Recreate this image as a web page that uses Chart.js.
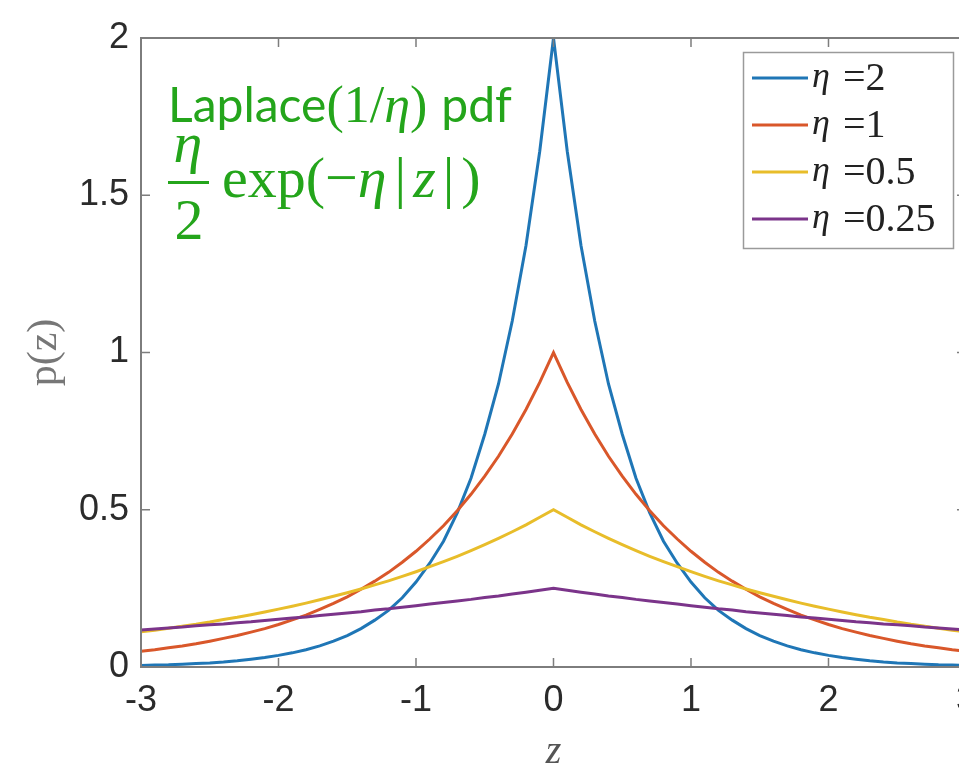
<!DOCTYPE html>
<html>
<head>
<meta charset="utf-8">
<script src="https://cdn.jsdelivr.net/npm/chart.js@4.4.0/dist/chart.umd.min.js"></script>
<style>
  html, body { margin: 0; padding: 0; background: #fff; overflow: hidden; }
  #wrap { position: absolute; left: 0; top: 0; width: 988px; height: 774px; }
</style>
</head>
<body>
<div id="wrap"><canvas id="laplaceChart" width="988" height="774"></canvas></div>
<script>
// z grid, -3 .. 3 in steps of 0.1
const zVals = [
  -3.0, -2.9, -2.8, -2.7, -2.6, -2.5, -2.4, -2.3, -2.2, -2.1,
  -2.0, -1.9, -1.8, -1.7, -1.6, -1.5, -1.4, -1.3, -1.2, -1.1,
  -1.0, -0.9, -0.8, -0.7, -0.6, -0.5, -0.4, -0.3, -0.2, -0.1,
  0.0,
  0.1, 0.2, 0.3, 0.4, 0.5, 0.6, 0.7, 0.8, 0.9, 1.0,
  1.1, 1.2, 1.3, 1.4, 1.5, 1.6, 1.7, 1.8, 1.9, 2.0,
  2.1, 2.2, 2.3, 2.4, 2.5, 2.6, 2.7, 2.8, 2.9, 3.0
];

// p(z)
const pEta2 = [
  0.005, 0.006, 0.007, 0.009, 0.011, 0.013, 0.016, 0.020, 0.025, 0.030,
  0.037, 0.045, 0.055, 0.067, 0.082, 0.100, 0.122, 0.149, 0.18, 0.22,
  0.27, 0.33, 0.40, 0.49, 0.60, 0.74, 0.90, 1.10, 1.34, 1.64,
  2,
  1.64, 1.34, 1.10, 0.90, 0.74, 0.60, 0.49, 0.40, 0.33, 0.27,
  0.22, 0.18, 0.149, 0.122, 0.100, 0.082, 0.067, 0.055, 0.045, 0.037,
  0.030, 0.025, 0.020, 0.016, 0.013, 0.011, 0.009, 0.007, 0.006, 0.005
];
const pEta1 = [
  0.050, 0.055, 0.061, 0.067, 0.074, 0.082, 0.091, 0.100, 0.111, 0.122,
  0.135, 0.150, 0.165, 0.183, 0.202, 0.223, 0.247, 0.273, 0.301, 0.333,
  0.368, 0.407, 0.449, 0.497, 0.549, 0.607, 0.670, 0.741, 0.819, 0.905,
  1,
  0.905, 0.819, 0.741, 0.670, 0.607, 0.549, 0.497, 0.449, 0.407, 0.368,
  0.333, 0.301, 0.273, 0.247, 0.223, 0.202, 0.183, 0.165, 0.150, 0.135,
  0.122, 0.111, 0.100, 0.091, 0.082, 0.074, 0.067, 0.061, 0.055, 0.050
];
const pEtaHalf = [
  0.112, 0.117, 0.123, 0.130, 0.136, 0.143, 0.151, 0.158, 0.166, 0.175,
  0.184, 0.193, 0.203, 0.214, 0.225, 0.236, 0.248, 0.261, 0.274, 0.288,
  0.303, 0.319, 0.335, 0.352, 0.370, 0.389, 0.409, 0.430, 0.452, 0.476,
  0.5,
  0.476, 0.452, 0.430, 0.409, 0.389, 0.370, 0.352, 0.335, 0.319, 0.303,
  0.288, 0.274, 0.261, 0.248, 0.236, 0.225, 0.214, 0.203, 0.193, 0.184,
  0.175, 0.166, 0.158, 0.151, 0.143, 0.136, 0.130, 0.123, 0.117, 0.112
];
const pEtaQuarter = [
  0.118, 0.121, 0.124, 0.127, 0.131, 0.134, 0.137, 0.141, 0.144, 0.148,
  0.152, 0.156, 0.159, 0.164, 0.168, 0.172, 0.176, 0.181, 0.185, 0.190,
  0.195, 0.200, 0.205, 0.210, 0.215, 0.221, 0.226, 0.232, 0.238, 0.244,
  0.25,
  0.244, 0.238, 0.232, 0.226, 0.221, 0.215, 0.210, 0.205, 0.200, 0.195,
  0.190, 0.185, 0.181, 0.176, 0.172, 0.168, 0.164, 0.159, 0.156, 0.152,
  0.148, 0.144, 0.141, 0.137, 0.134, 0.131, 0.127, 0.124, 0.121, 0.118
];

const etaLabels = ['2', '1', '0.5', '0.25'];
const xTicks = [-3, -2, -1, 0, 1, 2, 3];
const yTicks = [0, 0.5, 1, 1.5, 2];

const series = [pEta2, pEta1, pEtaHalf, pEtaQuarter];
const lineColors = ['#1f76b6', '#d9572a', '#e8bd2a', '#7b348a'];
const green = '#24a51b';
const serif = '"Liberation Serif", "DejaVu Serif", serif';

// MATLAB-style box with inward ticks
const axesBox = {
  id: 'axesBox',
  afterDatasetsDraw(chart) {
    const { ctx, chartArea: a, scales } = chart;
    ctx.save();
    ctx.strokeStyle = '#7d7d7d';
    ctx.lineWidth = 2;
    ctx.strokeRect(a.left, a.top, a.right - a.left, a.bottom - a.top);
    ctx.lineWidth = 1.5;
    ctx.beginPath();
    xTicks.forEach(v => {
      const px = scales.x.getPixelForValue(v);
      ctx.moveTo(px, a.bottom); ctx.lineTo(px, a.bottom - 9);
      ctx.moveTo(px, a.top); ctx.lineTo(px, a.top + 9);
    });
    yTicks.forEach(v => {
      const py = scales.y.getPixelForValue(v);
      ctx.moveTo(a.left, py); ctx.lineTo(a.left + 9, py);
      ctx.moveTo(a.right, py); ctx.lineTo(a.right - 9, py);
    });
    ctx.stroke();
    ctx.restore();
  }
};

// boxed legend in the upper right
const legendBox = {
  id: 'legendBox',
  afterDraw(chart) {
    const ctx = chart.ctx;
    ctx.save();
    ctx.fillStyle = '#fff';
    ctx.fillRect(743, 52, 210, 196);
    ctx.strokeStyle = '#9a9a9a';
    ctx.lineWidth = 1.5;
    ctx.strokeRect(743.5, 52.5, 210, 196);
    chart.data.datasets.forEach((ds, i) => {
      const y = 78 + i * 47;
      ctx.strokeStyle = ds.borderColor;
      ctx.lineWidth = 3;
      ctx.beginPath();
      ctx.moveTo(752, y);
      ctx.lineTo(808, y);
      ctx.stroke();
      ctx.fillStyle = '#222';
      ctx.textBaseline = 'middle';
      ctx.font = 'italic 36px ' + serif;
      ctx.fillText('η', 812, y);
      ctx.font = '40px ' + serif;
      ctx.fillText('=' + etaLabels[i], 843, y + 1);
    });
    ctx.restore();
  }
};

// green formula in the upper left
const formula = {
  id: 'formula',
  afterDraw(chart) {
    const ctx = chart.ctx;
    const run = (parts, x, y) => {
      parts.forEach(p => {
        if (typeof p === 'number') { x += p; return; }
        ctx.font = p[1];
        ctx.fillText(p[0], x, y);
        x += ctx.measureText(p[0]).width;
      });
    };
    ctx.save();
    ctx.fillStyle = green;
    ctx.textBaseline = 'alphabetic';
    ctx.textAlign = 'left';
    const sans = '48px Lato, "Open Sans", sans-serif';
    const up1 = '52px ' + serif, it1 = 'italic 52px ' + serif;
    run([['Laplace', sans], ['(1/', up1], ['η', it1], [')', up1], 14, ['pdf', sans]], 168, 122);

    const up2 = '58px ' + serif, it2 = 'italic 58px ' + serif;
    ctx.textAlign = 'center';
    ctx.font = it2;
    ctx.fillText('η', 188, 162);
    ctx.fillRect(168, 181, 41, 3);
    ctx.font = up2;
    ctx.fillText('2', 189, 239);
    ctx.textAlign = 'left';
    run([['exp(−', up2], ['η', it2], 8, ['|', up2], 7, ['z', it2], 7, ['|', up2], 7, [')', up2]], 222, 197);
    ctx.restore();
  }
};

new Chart(document.getElementById('laplaceChart'), {
  type: 'line',
  data: {
    datasets: etaLabels.map((eta, i) => ({
      label: 'η =' + eta,
      data: zVals.map((z, j) => ({ x: z, y: series[i][j] })),
      borderColor: lineColors[i],
      borderWidth: 3,
      pointRadius: 0,
      tension: 0,
      fill: false,
      order: 4 - i
    }))
  },
  options: {
    responsive: false,
    animation: false,
    devicePixelRatio: 1,
    layout: { padding: { left: 0, right: 0, top: 38, bottom: 0 } },
    plugins: { legend: { display: false }, tooltip: { enabled: false } },
    scales: {
      x: {
        type: 'linear',
        min: -3,
        max: 3,
        afterBuildTicks: s => { s.ticks = xTicks.map(v => ({ value: v })); },
        afterFit: s => { s.height = 107; },
        grid: { display: false, drawTicks: false },
        border: { display: false },
        ticks: {
          font: { family: 'Liberation Sans', size: 36 },
          color: '#2b2b2b',
          padding: 12,
          maxRotation: 0,
          callback: v => String(v)
        },
        title: {
          display: true,
          text: 'z',
          font: { family: 'Liberation Serif', size: 40, style: 'italic', lineHeight: 1 },
          color: '#555',
          padding: { top: 0, bottom: 2 }
        }
      },
      y: {
        min: 0,
        max: 2,
        afterBuildTicks: s => { s.ticks = yTicks.map(v => ({ value: v })); },
        afterFit: s => { s.width = 141; },
        grid: { display: false, drawTicks: false },
        border: { display: false },
        ticks: {
          font: { family: 'Liberation Sans', size: 36 },
          color: '#2b2b2b',
          padding: 12,
          callback: v => String(v)
        },
        title: {
          display: true,
          text: 'p(z)',
          font: { family: 'Liberation Serif', size: 42, lineHeight: 1 },
          color: '#777',
          padding: { top: 24, bottom: 0 }
        }
      }
    }
  },
  plugins: [axesBox, legendBox, formula]
});
</script>
</body>
</html>
